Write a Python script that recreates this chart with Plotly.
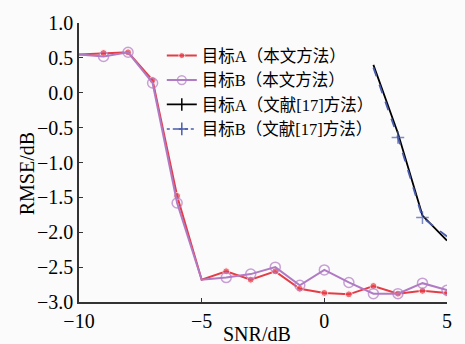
import plotly.graph_objects as go

snr = [-10, -9, -8, -7, -6, -5, -4, -3, -2, -1, 0, 1, 2, 3, 4, 5]
rmse_a = [0.55, 0.57, 0.58, 0.18, -1.48, -2.68, -2.56, -2.68, -2.56, -2.81, -2.87, -2.89, -2.77, -2.88, -2.84, -2.87]
rmse_b = [0.55, 0.52, 0.58, 0.14, -1.58, -2.68, -2.65, -2.60, -2.50, -2.76, -2.54, -2.72, -2.88, -2.88, -2.73, -2.83]
snr_ref = [2, 3, 4, 5]
rmse_a_ref = [0.40, -0.58, -1.76, -2.12]
rmse_b_ref = [0.36, -0.64, -1.79, -2.06]

names = ["目标A（本文方法）", "目标B（本文方法）", "目标A（文献[17]方法）", "目标B（文献[17]方法）"]
yticks = [1.0, 0.5, 0.0, -0.5, -1.0, -1.5, -2.0, -2.5, -3.0]
xticks = [-10, -5, 0, 5]

red = "#e63c46"
purple = "#b07ac4"
blue = "#4a5cae"

font_fam = "Liberation Serif, Times New Roman, Noto Sans CJK SC"

sizes_a = [0 if x in (-10, -5) else 7 for x in snr]
sizes_b = [0 if x in (-10, -5) else 10 for x in snr]
sizes_b_ref = [0, 9, 9, 0]

fig = go.Figure()
fig.add_trace(go.Scatter(x=snr, y=rmse_a, name=names[0], mode="lines+markers",
                         line=dict(color=red, width=2),
                         marker=dict(symbol="circle", size=sizes_a, color=red)))
fig.add_trace(go.Scatter(x=snr, y=rmse_b, name=names[1], mode="lines+markers",
                         line=dict(color=purple, width=2),
                         marker=dict(symbol="circle-open", size=sizes_b, color=purple,
                                     line=dict(width=1.5, color=purple))))
# legend entries for reference-method curves
fig.add_trace(go.Scatter(x=[None], y=[None], name=names[2], mode="lines+markers",
                         line=dict(color="black", width=1.8),
                         marker=dict(symbol="line-ns", size=9, color="black",
                                     line=dict(width=1.5, color="black"))))
fig.add_trace(go.Scatter(x=[None], y=[None], name=names[3], mode="lines+markers",
                         line=dict(color=blue, width=1.5, dash="dot"),
                         marker=dict(symbol="cross-thin", size=9, color=blue,
                                     line=dict(width=1.5, color=blue))))
fig.add_trace(go.Scatter(x=snr_ref, y=rmse_a_ref, name=names[2], mode="lines",
                         showlegend=False, line=dict(color="black", width=1.8)))
fig.add_trace(go.Scatter(x=snr_ref, y=rmse_b_ref, name=names[3], mode="lines+markers",
                         showlegend=False,
                         line=dict(color=blue, width=1.8, dash="dash"),
                         marker=dict(symbol="cross-thin", size=sizes_b_ref, color=blue,
                                     line=dict(width=1.5, color=blue))))

fig.update_layout(
    width=465, height=344,
    margin=dict(l=79, r=18, t=19, b=37),
    paper_bgcolor="#fbfbfb", plot_bgcolor="#fbfbfb",
    font=dict(family=font_fam, size=20, color="black"),
    showlegend=True,
    legend=dict(x=0.225, y=0.945, xanchor="left", yanchor="top",
                bgcolor="rgba(0,0,0,0)", font=dict(size=16.5, family=font_fam),
                tracegroupgap=0, itemwidth=30),
    xaxis=dict(range=[-10, 5], tickvals=xticks, ticktext=["−10", "−5", "0", "5"],
               showgrid=False, zeroline=False, showline=True, linecolor="#333",
               linewidth=1.5, ticks="inside", ticklen=4, tickcolor="#333",
               tickfont=dict(size=20)),
    yaxis=dict(range=[-3.0, 1.0], tickvals=yticks,
               ticktext=[("−" if v < 0 else "") + f"{abs(v):.1f}" for v in yticks],
               showgrid=False, zeroline=False, showline=True, linecolor="#333",
               linewidth=1.5, ticks="inside", ticklen=4, tickcolor="#333",
               tickfont=dict(size=20)),
    annotations=[
        dict(text="SNR/dB", xref="paper", yref="paper", x=0.485, y=-0.113,
             xanchor="center", yanchor="middle", showarrow=False, font=dict(size=20)),
        dict(text="RMSE/dB", xref="paper", yref="paper", x=-0.141, y=0.458,
             xanchor="center", yanchor="middle", showarrow=False, textangle=-90,
             font=dict(size=20)),
    ],
)

fig.write_html("out.html")
